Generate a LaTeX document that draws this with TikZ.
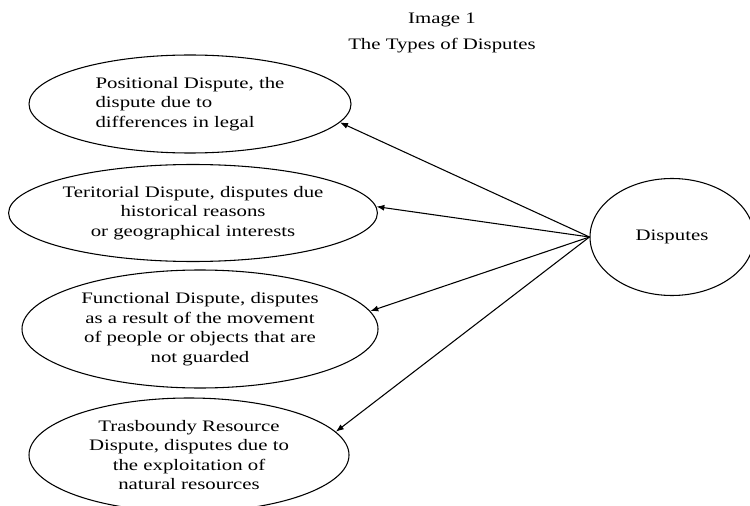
\documentclass[tikz,border=0pt]{standalone}
\usepackage{fontspec}
\setmainfont[FakeStretch=1.3]{Liberation Serif}
\usetikzlibrary{arrows.meta,shapes.geometric}

\tikzset{
  kind/.style={draw,ellipse,line width=0.8pt,inner sep=0pt,align=center,
    font=\fontsize{12}{14.6}\selectfont},
  heading/.style={font=\fontsize{12}{14.6}\selectfont},
  link/.style={-{Latex[length=6pt,width=4.5pt]},line width=0.8pt}
}

\begin{document}
\begin{tikzpicture}[x=0.75pt,y=-0.75pt]
  \useasboundingbox (0,0) rectangle (750,506);
  \clip (0,0) rectangle (750,506);

  % Titles
  \node[heading] (title) at (442,20) {Image 1};
  \node[heading] (subtitle) at (442,46) {The Types of Disputes};

  % Types
  \node[kind,align=left,minimum width=241.5pt,minimum height=73.5pt] (positional) at (190,104)
    {Positional Dispute, the\\dispute due to\\differences in legal};
  \node[kind,minimum width=271.5pt,minimum height=72.75pt] (territorial) at (193,213)
    {Teritorial Dispute, disputes due\\historical reasons\\or geographical interests};
  \node[kind,minimum width=267pt,minimum height=88.5pt] (functional) at (200,329)
    {Functional Dispute, disputes\\as a result of the movement\\of people or objects that are\\not guarded};
  \node[kind,minimum width=240pt,minimum height=85.5pt] (resource) at (189,455)
    {Trasboundy Resource\\Dispute, disputes due to\\the exploitation of\\natural resources};

  % Root
  \node[kind,minimum width=123pt,minimum height=87.75pt] (disputes) at (672,237) {Disputes};

  % Arrows
  \draw[link] (disputes.west) -- (positional.-7);
  \draw[link] (disputes.west) -- (territorial.2);
  \draw[link] (disputes.west) -- (functional.6);
  \draw[link] (disputes.west) -- (resource.9);
\end{tikzpicture}
\end{document}
